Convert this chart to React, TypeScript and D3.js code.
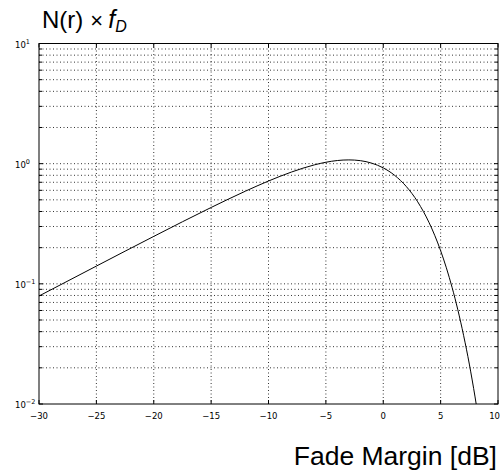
import React from "react";
import * as d3 from "d3";

// fade margin (dB) and normalised level crossing rate
const fadeMargin = [-30, -25, -20, -15, -12, -10, -9, -8, -7, -6, -5, -4, -3, -2, -1, 0, 1, 2, 3, 3.5, 4, 4.5, 5, 5.5, 6, 6.5, 7, 7.5, 8, 8.2];
const crossingRate = [0.0792, 0.1405, 0.2482, 0.4319, 0.5911, 0.7172, 0.7842, 0.8516, 0.9171, 0.9772, 1.0274, 1.0621, 1.075, 1.0594, 1.0095, 0.9221, 0.7986, 0.6468, 0.4815, 0.3997, 0.3223, 0.2513, 0.1887, 0.1359, 0.0933, 0.0608, 0.0373, 0.0215, 0.01145, 0.0087];

const xTicks = [-30, -25, -20, -15, -10, -5, 0, 5, 10];
const yDecades = [-2, -1, 0, 1];

const W = 501, H = 473;
const margin = { top: 43.5, right: 3, bottom: 69, left: 39 };

export default function App() {
  const x = d3.scaleLinear().domain([-30, 10]).range([margin.left, W - margin.right]);
  const y = d3.scaleLog().domain([0.01, 10]).range([H - margin.bottom, margin.top]);

  const pts = fadeMargin.map((v, i) => [v, crossingRate[i]] as [number, number]);
  const line = d3.line<[number, number]>()
    .x(d => x(d[0]))
    .y(d => y(d[1]))
    .curve(d3.curveMonotoneX);

  const x0 = x.range()[0], x1 = x.range()[1];
  const yB = y.range()[0], yT = y.range()[1];

  // every 1..9 step inside the three decades
  const yGrid: number[] = [];
  [-2, -1, 0].forEach(e => {
    for (let m = 1; m < 10; m++) yGrid.push(m * Math.pow(10, e));
  });

  const dot = "1,2.5";
  const lab = { fontFamily: "DejaVu Sans, sans-serif", fontSize: 8.5, fill: "#000" };

  return (
    <svg width={W} height={H} style={{ position: "absolute", left: 0, top: 0, background: "#fff" }}>
      <defs>
        <clipPath id="plot">
          <rect x={x0} y={yT} width={x1 - x0} height={yB - yT} />
        </clipPath>
      </defs>

      {/* grid */}
      {yGrid.filter(v => v > 0.01).map((v, i) => (
        <line key={"gy" + i} x1={x0} x2={x1} y1={y(v)} y2={y(v)} stroke="#000" strokeWidth={0.8} strokeDasharray={dot} />
      ))}
      {xTicks.slice(1, -1).map(t => (
        <line key={"gx" + t} x1={x(t)} x2={x(t)} y1={yT} y2={yB} stroke="#000" strokeWidth={0.8} strokeDasharray={dot} />
      ))}

      {/* ticks */}
      {xTicks.map(t => (
        <g key={"tx" + t}>
          <line x1={x(t)} x2={x(t)} y1={yB} y2={yB - 4} stroke="#000" />
          <line x1={x(t)} x2={x(t)} y1={yT} y2={yT + 4} stroke="#000" />
        </g>
      ))}
      {yGrid.map((v, i) => {
        const len = i % 9 === 0 ? 4 : 3;
        return (
          <g key={"ty" + i}>
            <line x1={x0} x2={x0 + len} y1={y(v)} y2={y(v)} stroke="#000" />
            <line x1={x1} x2={x1 - len} y1={y(v)} y2={y(v)} stroke="#000" />
          </g>
        );
      })}

      {/* curve */}
      <path d={line(pts) || ""} fill="none" stroke="#000" strokeWidth={1} clipPath="url(#plot)" />

      {/* frame */}
      <rect x={x0} y={yT} width={x1 - x0} height={yB - yT} fill="none" stroke="#000" strokeWidth={1} />

      {/* tick labels */}
      {xTicks.map(t => (
        <text key={"lx" + t} x={t === 10 ? W - 1 : x(t)} y={yB + 15}
          textAnchor={t === 10 ? "end" : "middle"} {...lab}>
          {t < 0 ? "\u2212" + Math.abs(t) : t}
        </text>
      ))}
      {yDecades.map(e => (
        <text key={"ly" + e} x={15} y={y(Math.pow(10, e)) + 4} {...lab}>
          10
          <tspan dy={-4} fontSize={6.5}>{e < 0 ? "\u2212" + Math.abs(e) : e}</tspan>
        </text>
      ))}

      {/* titles */}
      <text x={42} y={28} fontFamily="Liberation Sans, Arial, sans-serif" fontSize={24} fill="#000">
        N(r)
        <tspan dx={7} fontSize={22}>×</tspan>
        <tspan dx={5} fontSize={25} fontStyle="italic">f</tspan>
        <tspan dy={4} fontSize={16} fontStyle="italic">D</tspan>
      </text>
      <text x={497} y={465} textAnchor="end" fontFamily="Liberation Sans, Arial, sans-serif" fontSize={26.5} fill="#000">
        Fade Margin [dB]
      </text>
    </svg>
  );
}
